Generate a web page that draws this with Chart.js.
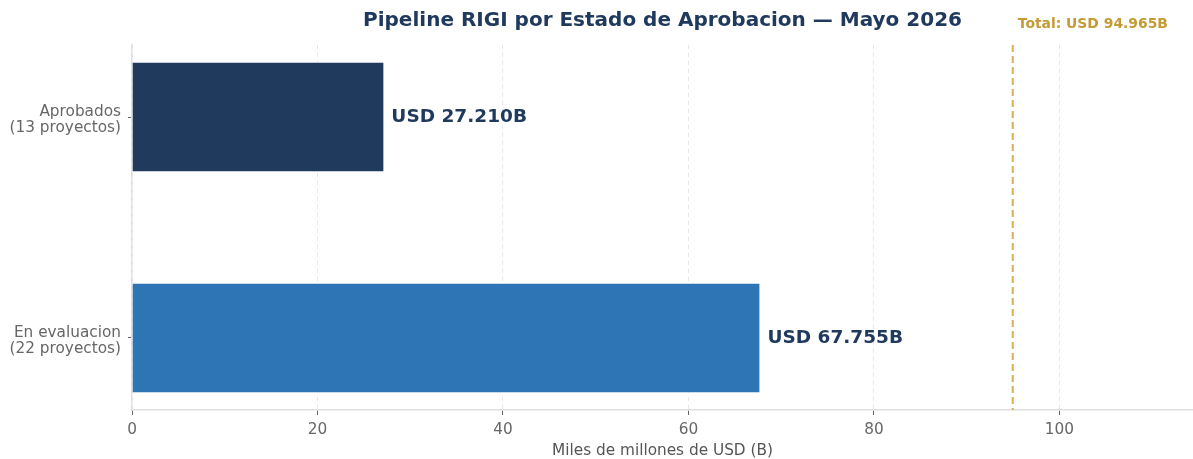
<!DOCTYPE html>
<html>
<head>
<meta charset="utf-8">
<script src="https://cdn.jsdelivr.net/npm/chart.js@4/dist/chart.umd.min.js"></script>
<style>
  html, body { margin: 0; padding: 0; background: #fff; }
  #wrap { width: 1193px; height: 459px; }
</style>
</head>
<body>
<div id="wrap"><canvas id="rigiChart"></canvas></div>
<script>
// datos del grafico
const categories = [['Aprobados', '(13 proyectos)'], ['En evaluacion', '(22 proyectos)']];
const amounts = [27.21, 67.755];
const valueLabels = ['USD 27.210B', 'USD 67.755B'];
const barColors = ['#203a5e', '#2e75b5'];
const xTicks = [0, 20, 40, 60, 80, 100];
const totalAmount = 94.965;
const totalLabel = 'Total: USD 94.965B';
const chartTitle = 'Pipeline RIGI por Estado de Aprobacion \u2014 Mayo 2026';

const FONT = "'DejaVu Sans', sans-serif";

const overlay = {
    id: 'overlay',
    afterDatasetsDraw(chart) {
        const ctx = chart.ctx;
        const area = chart.chartArea;
        const xs = chart.scales.x;
        const meta = chart.getDatasetMeta(0);

        // linea del total
        const tx = xs.getPixelForValue(totalAmount);
        ctx.save();
        ctx.strokeStyle = '#d4b158';
        ctx.lineWidth = 2;
        ctx.setLineDash([7, 4]);
        ctx.beginPath();
        ctx.moveTo(tx, area.top);
        ctx.lineTo(tx, area.bottom);
        ctx.stroke();
        ctx.restore();

        // etiquetas de valor
        ctx.save();
        ctx.font = 'bold 18.5px ' + FONT;
        ctx.fillStyle = '#203a5e';
        ctx.textAlign = 'left';
        ctx.textBaseline = 'middle';
        meta.data.forEach((bar, i) => {
            ctx.fillText(valueLabels[i], bar.x + 7, bar.y);
        });
        ctx.restore();

        // texto del total
        ctx.save();
        ctx.font = 'bold 13.9px ' + FONT;
        ctx.fillStyle = '#c49b34';
        ctx.textAlign = 'left';
        ctx.textBaseline = 'middle';
        ctx.fillText(totalLabel, tx + 5, 24);
        ctx.restore();

        // titulo centrado sobre el area
        ctx.save();
        ctx.font = 'bold 20px ' + FONT;
        ctx.fillStyle = '#203a5e';
        ctx.textAlign = 'center';
        ctx.textBaseline = 'middle';
        ctx.fillText(chartTitle, (area.left + area.right) / 2, 21);
        ctx.restore();
    }
};

const ctx = document.getElementById('rigiChart').getContext('2d');

const config = {
    type: 'bar',
    data: {
        datasets: [{
            data: amounts.map((v, i) => ({ x: v, y: i })),
            backgroundColor: barColors,
            borderColor: 'rgba(255,255,255,0.7)',
            borderWidth: 1,
            categoryPercentage: 1,
            barPercentage: 0.5,
        }],
    },
    options: {
        indexAxis: 'y',
        responsive: true,
        maintainAspectRatio: false,
        animation: false,
        layout: {
            padding: { top: 45, right: 0, left: 0, bottom: 0 },
        },
        scales: {
            x: {
                type: 'linear',
                min: 0,
                max: 114.4,
                afterBuildTicks: (axis) => {
                    axis.ticks = xTicks.map((v) => ({ value: v }));
                },
                afterFit: (scale) => {
                    scale.height = 49;
                },
                grid: {
                    color: '#e6e6e6',
                    lineWidth: 1,
                    tickColor: '#666',
                    tickLength: 5,
                },
                border: {
                    color: '#e0e0e0',
                    width: 1.5,
                    dash: [4, 4],
                },
                ticks: {
                    color: '#666',
                    font: { family: FONT, size: 15.3 },
                    padding: 6,
                },
                title: {
                    display: true,
                    text: 'Miles de millones de USD (B)',
                    color: '#555',
                    font: { family: FONT, size: 15.3 },
                    padding: { top: 0, bottom: -1 },
                },
            },
            y: {
                type: 'linear',
                reverse: true,
                offset: false,
                min: -0.326,
                max: 1.326,
                afterBuildTicks: (axis) => {
                    axis.ticks = categories.map((c, i) => ({ value: i }));
                },
                afterFit: (scale) => {
                    scale.width = 132;
                },
                grid: {
                    offset: false,
                    drawOnChartArea: false,
                    tickColor: '#666',
                    tickLength: 4,
                },
                border: {
                    color: '#e0e0e0',
                    width: 1.5,
                },
                ticks: {
                    color: '#666',
                    font: { family: FONT, size: 15.3, lineHeight: 1.1 },
                    padding: 7,
                    labelOffset: 3,
                    callback: (v) => categories[v],
                },
            },
        },
        plugins: {
            legend: { display: false },
            tooltip: { enabled: false },
        },
    },
    plugins: [overlay],
};

new Chart(ctx, config);
</script>
</body>
</html>
